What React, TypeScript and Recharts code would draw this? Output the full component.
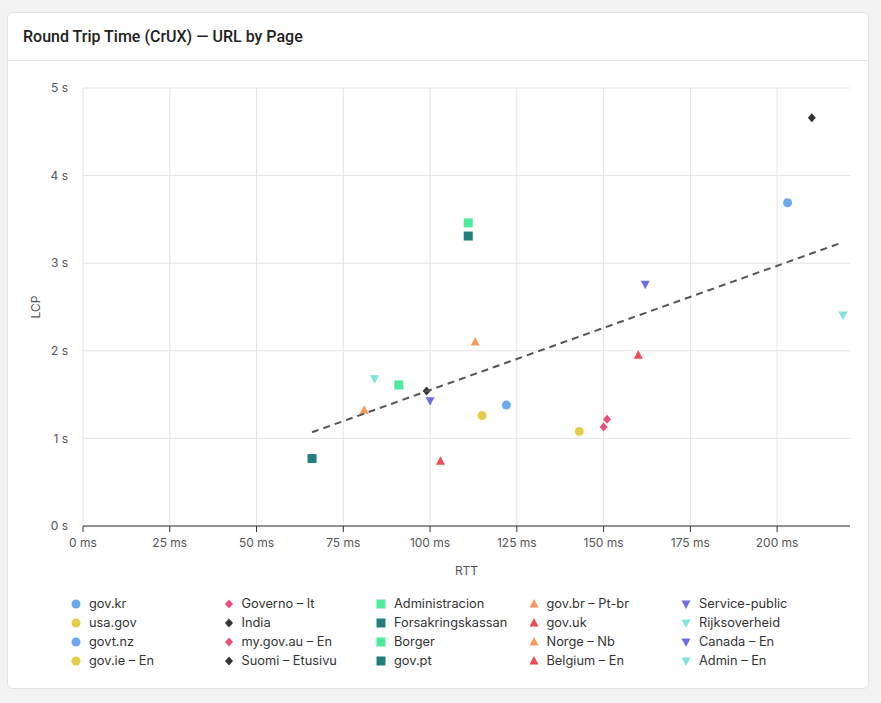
import { ScatterChart, Scatter, XAxis, YAxis, CartesianGrid, ReferenceLine } from 'recharts';

// one entry per page, legend order (column by column)
const pages = [
  'gov.kr', 'usa.gov', 'govt.nz', 'gov.ie – En',
  'Governo – It', 'India', 'my.gov.au – En', 'Suomi – Etusivu',
  'Administracion', 'Forsakringskassan', 'Borger', 'gov.pt',
  'gov.br – Pt-br', 'gov.uk', 'Norge – Nb', 'Belgium – En',
  'Service-public', 'Rijksoverheid', 'Canada – En', 'Admin – En',
];
const rttMs = [
  203, 115, 122, 143,
  150, 210, 151, 99,
  111, 111, 91, 66,
  113, 160, 81, 103,
  162, 219, 100, 84,
];
const lcpSeconds = [
  3.69, 1.26, 1.38, 1.08,
  1.13, 4.66, 1.22, 1.54,
  3.46, 3.31, 1.61, 0.77,
  2.10, 1.95, 1.32, 0.74,
  2.76, 2.41, 1.43, 1.68,
];

// regression line end points
const trendRtt = [66, 219];
const trendLcp = [1.07, 3.24];

const xTicks = [0, 25, 50, 75, 100, 125, 150, 175, 200];
const yTicks = [0, 1, 2, 3, 4, 5];

type Kind = 'circle' | 'diamond' | 'square' | 'triangle' | 'down';

const markerStyles: { kind: Kind; color: string }[] = [
  { kind: 'circle', color: '#6aa9ec' },
  { kind: 'circle', color: '#e2cd45' },
  { kind: 'circle', color: '#6aa9ec' },
  { kind: 'circle', color: '#e2cd45' },
  { kind: 'diamond', color: '#ec4d79' },
  { kind: 'diamond', color: '#333333' },
  { kind: 'diamond', color: '#ec4d79' },
  { kind: 'diamond', color: '#333333' },
  { kind: 'square', color: '#4feb9c' },
  { kind: 'square', color: '#237f7b' },
  { kind: 'square', color: '#4feb9c' },
  { kind: 'square', color: '#237f7b' },
  { kind: 'triangle', color: '#f7995a' },
  { kind: 'triangle', color: '#ef4b54' },
  { kind: 'triangle', color: '#f7995a' },
  { kind: 'triangle', color: '#ef4b54' },
  { kind: 'down', color: '#6e6ee6' },
  { kind: 'down', color: '#7fe5dc' },
  { kind: 'down', color: '#6e6ee6' },
  { kind: 'down', color: '#7fe5dc' },
];

const FONT = 'Inter, "Noto Sans", sans-serif';

function Marker({ kind, color, cx, cy }: { kind: Kind; color: string; cx: number; cy: number }) {
  switch (kind) {
    case 'circle':
      return <circle cx={cx} cy={cy} r={4.5} fill={color} />;
    case 'square':
      return <rect x={cx - 4.5} y={cy - 4.5} width={9} height={9} fill={color} />;
    case 'diamond':
      return <polygon points={`${cx},${cy - 4.5} ${cx + 4},${cy} ${cx},${cy + 4.5} ${cx - 4},${cy}`} fill={color} />;
    case 'triangle':
      return <polygon points={`${cx},${cy - 5} ${cx + 4.5},${cy + 3.5} ${cx - 4.5},${cy + 3.5}`} fill={color} />;
    default:
      return <polygon points={`${cx - 4.5},${cy - 3.5} ${cx + 4.5},${cy - 3.5} ${cx},${cy + 5}`} fill={color} />;
  }
}

const series = pages.map((name, i) => ({
  name,
  ...markerStyles[i],
  data: [{ x: rttMs[i], y: lcpSeconds[i] }],
}));

const trendData = trendRtt.map((x, i) => ({ x, y: trendLcp[i] }));

const YLabel = (props: any) => {
  const vb = props.viewBox;
  const x = vb.x + 12;
  const y = vb.y + vb.height / 2;
  return (
    <text x={x} y={y} transform={`rotate(-90, ${x}, ${y})`} textAnchor="middle" dominantBaseline="central"
      fontSize={12} fill="#555" fontFamily={FONT}>LCP</text>
  );
};

export default function App() {
  return (
    <div style={{ position: 'fixed', left: 0, top: 0, width: 881, height: 703, background: '#f3f3f3', fontFamily: FONT }}>
      <div style={{
        position: 'absolute', left: 7, top: 12, width: 860, height: 675,
        background: '#fff', border: '1px solid #e2e2e2', borderRadius: 6,
      }}>
        <div style={{
          height: 48, borderBottom: '1px solid #e6e6e6', boxSizing: 'border-box',
          paddingLeft: 15, display: 'flex', alignItems: 'center',
          fontFamily: 'Roboto, sans-serif', fontWeight: 500, fontSize: 16, color: '#222',
        }}>
          Round Trip Time (CrUX) — URL by Page
        </div>
      </div>

      <div style={{ position: 'absolute', left: 0, top: 0 }}>
        <ScatterChart width={881} height={590} margin={{ top: 88, right: 31, bottom: 10, left: 23 }}>
          <CartesianGrid stroke="#e3e3e3" strokeWidth={1} vertical={false} />
          {/* vertical grid only at the labelled ticks */}
          {xTicks.map((t) => (
            <ReferenceLine key={t} x={t} stroke="#e3e3e3" strokeWidth={1} />
          ))}
          <XAxis
            type="number"
            dataKey="x"
            domain={[0, 221]}
            ticks={xTicks}
            allowDataOverflow
            tickFormatter={(v: number) => `${v} ms`}
            axisLine={{ stroke: '#333' }}
            tickLine={{ stroke: '#333' }}
            tickSize={6}
            tickMargin={6}
            height={54}
            tick={{ fontSize: 12, fill: '#555', fontFamily: FONT }}
            label={{ value: 'RTT', position: 'insideBottom', offset: 5, fontSize: 12, fill: '#555', fontFamily: FONT }}
          />
          <YAxis
            type="number"
            dataKey="y"
            domain={[0, 5]}
            ticks={yTicks}
            tickFormatter={(v: number) => `${v} s`}
            axisLine={false}
            tickLine={false}
            tickMargin={9}
            width={60}
            tick={{ fontSize: 12, fill: '#555', fontFamily: FONT }}
            label={<YLabel />}
          />
          {series.map((s) => (
            <Scatter
              key={s.name}
              name={s.name}
              data={s.data}
              fill={s.color}
              isAnimationActive={false}
              shape={(p: any) => <Marker kind={s.kind} color={s.color} cx={p.cx} cy={p.cy} />}
            />
          ))}
          <Scatter
            name="trend"
            data={trendData}
            line={{ stroke: '#555', strokeWidth: 2, strokeDasharray: '7 5' }}
            shape={() => <g />}
            legendType="none"
            isAnimationActive={false}
          />
        </ScatterChart>
      </div>

      <div style={{
        position: 'absolute', left: 70, top: 594, display: 'grid',
        gridTemplateRows: 'repeat(4, 19px)', gridAutoFlow: 'column', gridAutoColumns: '152.5px',
        fontSize: 12.8, color: '#333',
      }}>
        {series.map((s) => (
          <div key={s.name} style={{ display: 'flex', alignItems: 'center', whiteSpace: 'nowrap' }}>
            <svg width={12} height={12} style={{ marginRight: 7, flex: 'none' }}>
              <Marker kind={s.kind} color={s.color} cx={6} cy={6} />
            </svg>
            {s.name}
          </div>
        ))}
      </div>
    </div>
  );
}
